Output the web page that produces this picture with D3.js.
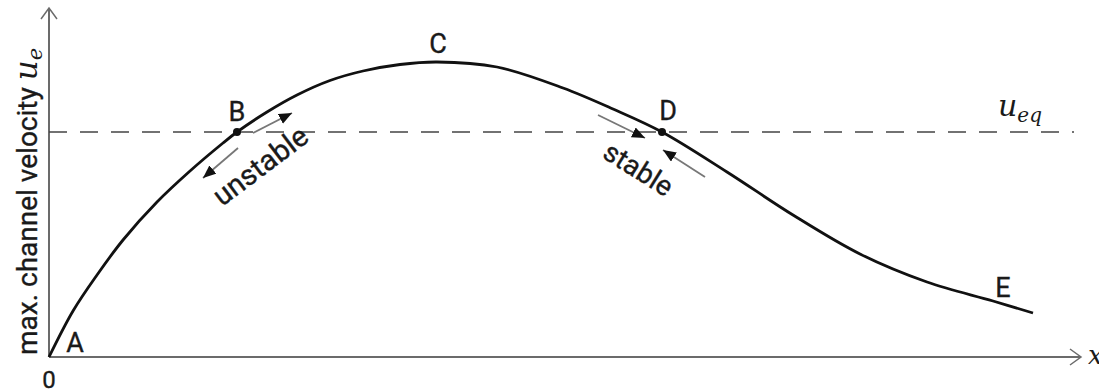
<!DOCTYPE html>
<html>
<head>
<meta charset="utf-8">
<script src="https://cdn.jsdelivr.net/npm/d3@7"></script>
<style>
  body { margin: 0; background: #fff; }
  svg { display: block; }
  .lbl { font-family: Roboto, "Liberation Sans", Arial, sans-serif; fill: #1a1a1a; stroke: #1a1a1a; stroke-width: 0.35px; }
  .math { font-family: "DejaVu Serif", "Liberation Serif", serif; font-style: italic; fill: #1a1a1a; stroke: none; }
</style>
</head>
<body>
<script>
// curve: distance along channel (x) vs max. channel velocity (u)
const curveX = [0, 24, 48, 74, 108, 141, 174, 188, 218, 248, 281, 314, 351, 388, 448, 514, 564, 613, 678, 744, 811, 878, 944, 984];
const curveU = [0, 46, 82, 117, 155, 186, 214, 225, 245, 262, 276.5, 286, 292.5, 295, 290, 269, 248, 225, 185, 142, 103, 75, 56, 44];

const uEq = 225;

// labelled points
const pointNames = ["A", "B", "C", "D", "E"];
const pointX = [26, 188, 389, 619, 954];
const pointU = [5, 236, 304, 237, 60];

// equilibrium intersections
const eqX = [188, 613];

// stability arrows [x0, u0, x1, u1]
const arrowsB = [[204, 224, 243, 244], [189, 209, 154, 179]];
const arrowsD = [[549, 242, 596, 219], [656, 180, 614, 207]];

const W = 1099, H = 392;
const svg = d3.select("body").append("svg").attr("width", W).attr("height", H);

const x = d3.scaleLinear().domain([0, 1030]).range([49, 1079]);
const y = d3.scaleLinear().domain([0, 300]).range([357, 57]);

const defs = svg.append("defs");
defs.append("marker")
  .attr("id", "head")
  .attr("markerUnits", "userSpaceOnUse")
  .attr("viewBox", "0 0 12 10")
  .attr("refX", 12).attr("refY", 5)
  .attr("markerWidth", 13).attr("markerHeight", 11)
  .attr("orient", "auto")
  .append("path").attr("d", "M0,0L12,5L0,10Z").attr("fill", "#111");

// axes
const axisColor = "#6b6b6b";
svg.append("line").attr("x1", x(0)).attr("y1", y(0)).attr("x2", x(0)).attr("y2", 8)
  .attr("stroke", axisColor).attr("stroke-width", 2);
svg.append("path").attr("d", `M${x(0) - 8},19L${x(0)},8L${x(0) + 8},19`)
  .attr("fill", "none").attr("stroke", axisColor).attr("stroke-width", 1.5);
svg.append("line").attr("x1", x(0)).attr("y1", y(0)).attr("x2", 1081).attr("y2", y(0))
  .attr("stroke", axisColor).attr("stroke-width", 2);
svg.append("path").attr("d", `M1070,${y(0) - 8}L1081,${y(0)}L1070,${y(0) + 8}`)
  .attr("fill", "none").attr("stroke", axisColor).attr("stroke-width", 1.5);

// equilibrium line
svg.append("line")
  .attr("x1", x(0)).attr("x2", 1074)
  .attr("y1", y(uEq)).attr("y2", y(uEq))
  .attr("stroke", "#444").attr("stroke-width", 1.5)
  .attr("stroke-dasharray", "18,13");

// main curve
const pts = curveX.map((d, i) => [d, curveU[i]]);
svg.append("path")
  .datum(pts)
  .attr("fill", "none")
  .attr("stroke", "#111")
  .attr("stroke-width", 2.8)
  .attr("d", d3.line().x(d => x(d[0])).y(d => y(d[1])).curve(d3.curveCatmullRom.alpha(0.5)));

// equilibrium dots
svg.selectAll(".eq").data(eqX).enter().append("circle")
  .attr("cx", d => x(d)).attr("cy", y(uEq)).attr("r", 4).attr("fill", "#111");

// arrows
svg.selectAll(".arr").data(arrowsB.concat(arrowsD)).enter().append("line")
  .attr("x1", d => x(d[0])).attr("y1", d => y(d[1]))
  .attr("x2", d => x(d[2])).attr("y2", d => y(d[3]))
  .attr("stroke", "#777").attr("stroke-width", 1.8)
  .attr("marker-end", "url(#head)");

// point labels
svg.selectAll(".pl").data(pointNames).enter().append("text")
  .attr("class", "lbl")
  .attr("x", (d, i) => x(pointX[i])).attr("y", (d, i) => y(pointU[i]))
  .attr("text-anchor", "middle")
  .style("font-size", "27px")
  .text(d => d);

// stable / unstable
svg.append("text").attr("class", "lbl")
  .attr("transform", `translate(222,207) rotate(-37)`)
  .style("font-size", "29px").text("unstable");
svg.append("text").attr("class", "lbl")
  .attr("transform", `translate(601,157) rotate(32)`)
  .style("font-size", "28px").text("stable");

// y label
const yl = svg.append("text").attr("class", "lbl")
  .attr("transform", `translate(37,${y(0) - 2}) rotate(-90)`)
  .style("font-size", "28px");
yl.append("tspan").text("max. channel velocity ");
yl.append("tspan").attr("class", "math").style("font-size", "31px").text("u");
yl.append("tspan").attr("class", "math").style("font-size", "21px").attr("dy", 5).text("e");

// u_eq
const ueq = svg.append("text").attr("class", "math")
  .attr("x", 998).attr("y", 116).style("font-size", "30px");
ueq.append("tspan").text("u");
ueq.append("tspan").style("font-size", "20px").attr("dy", 6).text("eq");

// x axis label and origin
svg.append("text").attr("class", "math").attr("x", 1088).attr("y", y(0) + 7)
  .style("font-size", "26px").text("x");
svg.append("text").attr("class", "lbl").attr("x", x(0)).attr("y", 388)
  .attr("text-anchor", "middle").style("font-size", "24px").text("0");
</script>
</body>
</html>
